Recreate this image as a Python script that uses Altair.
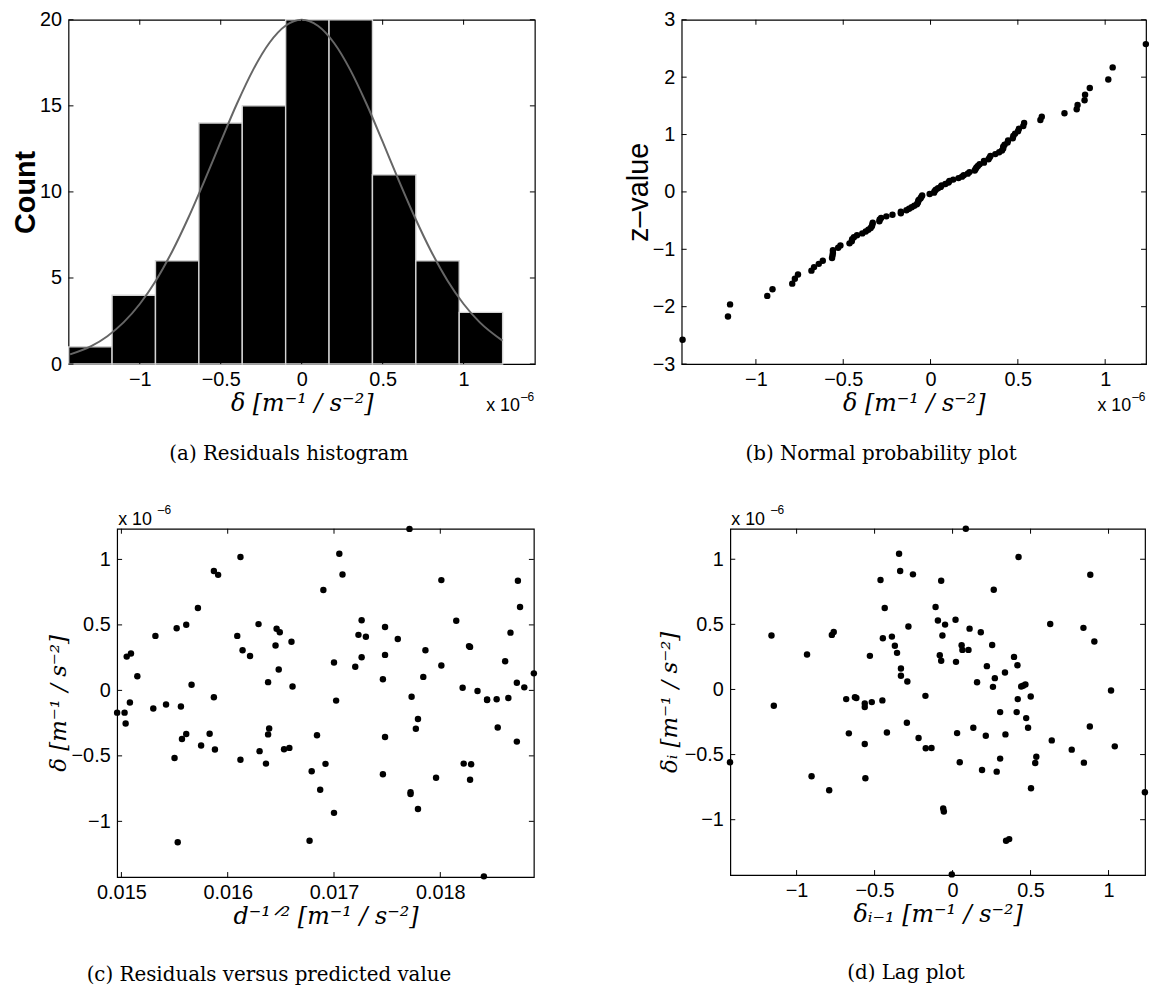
import altair as alt
import pandas as pd
from statistics import NormalDist

# Residual values are in units of 1e-6 m^-1/s^-2 (the "x 10^-6" factor).
pred = [0.01496, 0.01503, 0.01504, 0.01505, 0.01509, 0.01508, 0.01515, 0.01532, 0.01530, 0.01542,
        0.01552, 0.01556, 0.01550, 0.01553, 0.01561, 0.01561, 0.01557, 0.01566, 0.01572, 0.01575,
        0.01583, 0.01587, 0.01591, 0.01587, 0.01588, 0.01609, 0.01612, 0.01614, 0.01621, 0.01612,
        0.01629, 0.01630, 0.01636, 0.01638, 0.01639, 0.01638, 0.01645, 0.01646, 0.01649, 0.01648,
        0.01653, 0.01658, 0.01660, 0.01661, 0.01677, 0.01679, 0.01684, 0.01687, 0.01690, 0.01692,
        0.01700, 0.01700, 0.01702, 0.01705, 0.01708, 0.01720, 0.01723, 0.01726, 0.01730, 0.01726,
        0.01746, 0.01748, 0.01748, 0.01748, 0.01746, 0.01760, 0.01771, 0.01773, 0.01779, 0.01777,
        0.01772, 0.01772, 0.01779, 0.01784, 0.01786, 0.01796, 0.01801, 0.01801, 0.01815, 0.01821,
        0.01822, 0.01827, 0.01828, 0.01829, 0.01828, 0.01835, 0.01844, 0.01844, 0.01853, 0.01854,
        0.01861, 0.01864, 0.01866, 0.01872, 0.01872, 0.01873, 0.01875, 0.01879, 0.01888, 0.01841]
resid = [-0.170, -0.170, -0.253, 0.258, 0.281, -0.093, 0.108, 0.416, -0.138, -0.108,
         0.474, -0.123, -0.516, -1.160, 0.501, -0.333, -0.371, 0.043, 0.629, -0.421,
         -0.331, 0.912, 0.882, -0.053, -0.451, 0.416, 1.018, 0.306, 0.263, -0.529,
         0.506, -0.464, -0.559, 0.063, -0.291, -0.336, 0.343, 0.471, 0.444, 0.160,
         -0.449, -0.439, 0.371, 0.030, -1.148, -0.617, -0.343, -0.759, 0.767, -0.561,
         -0.935, 0.213, -0.078, 1.043, 0.885, 0.180, 0.424, 0.536, 0.409, 0.253,
         0.085, 0.484, 0.271, -0.356, -0.640, 0.393, 1.233, -0.048, -0.218, -0.293,
         -0.777, -0.792, -0.905, 0.103, 0.306, -0.667, 0.842, 0.190, 0.531, 0.020,
         -0.559, 0.338, 0.332, -0.564, -0.682, -0.005, -0.073, -0.070, -0.068, -0.283,
         0.223, -0.058, 0.441, 0.058, -0.391, 0.837, 0.637, 0.023, 0.130, -1.420]

# histogram bins (a)
hist_lo = [-1.439, -1.171, -0.903, -0.635, -0.367, -0.099, 0.169, 0.437, 0.705, 0.973]
hist_hi = [-1.171, -0.903, -0.635, -0.367, -0.099, 0.169, 0.437, 0.705, 0.973, 1.241]
hist_count = [1, 4, 6, 14, 15, 20, 20, 11, 6, 3]

# grey fitted curve (a)
fit_x = [-1.43, -1.3, -1.2, -1.1, -1.0, -0.9, -0.8, -0.7, -0.6, -0.5, -0.4, -0.3, -0.2, -0.1,
         0.0, 0.1, 0.2, 0.3, 0.4, 0.5, 0.6, 0.7, 0.8, 0.9, 1.0, 1.1, 1.24]
fit_y = [0.56, 1.04, 1.62, 2.42, 3.49, 4.86, 6.54, 8.50, 10.66, 12.92, 15.12, 17.09, 18.65, 19.65,
         20.0, 19.65, 18.65, 17.09, 15.12, 12.92, 10.66, 8.50, 6.54, 4.86, 3.49, 2.42, 1.36]

# lag plot (d)
lag_prev = [-1.427, -1.161, -1.146, -0.933, -0.904, -0.791, -0.774, -0.762, -0.682, -0.665,
            -0.626, -0.617, -0.563, -0.563, -0.563, -0.559, -0.530, -0.518, -0.462, -0.450,
            -0.447, -0.435, -0.421, -0.389, -0.370, -0.356, -0.343, -0.336, -0.331, -0.331,
            -0.290, -0.293, -0.283, -0.254, -0.218, -0.174, -0.172, -0.135, -0.109, -0.094,
            -0.073, -0.082, -0.073, -0.065, -0.048, -0.060, -0.056, -0.005, 0.019, 0.022,
            0.029, 0.046, 0.058, 0.063, 0.085, 0.102, 0.109, 0.133, 0.157, 0.181,
            0.189, 0.213, 0.220, 0.254, 0.259, 0.264, 0.271, 0.283, 0.305, 0.305,
            0.336, 0.339, 0.343, 0.363, 0.394, 0.411, 0.416, 0.418, 0.423, 0.440,
            0.452, 0.467, 0.472, 0.484, 0.501, 0.503, 0.530, 0.537, 0.626, 0.636,
            0.764, 0.839, 0.842, 0.883, 0.880, 0.909, 1.016, 1.040, 1.233]
lag_curr = [-0.559, 0.414, -0.125, 0.268, -0.667, -0.774, 0.419, 0.442, -0.074, -0.337,
            -0.059, -0.066, -0.107, -0.135, -0.419, -0.682, 0.258, -0.097, 0.840, -0.084,
            0.393, 0.626, -0.330, 0.406, 0.335, 0.281, 1.042, 0.909, 0.161, 0.105,
            0.061, -0.255, 0.483, 0.884, -0.373, -0.049, -0.452, -0.450, 0.633, 0.529,
            0.835, 0.263, 0.220, 0.414, 0.498, -0.914, -0.937, -1.420, 0.536, 0.212,
            -0.335, -0.559, 0.340, 0.304, 1.234, 0.304, 0.467, -0.294, 0.056, 0.439,
            -0.618, -0.355, 0.179, 0.342, 0.020, 0.766, 0.087, -0.631, -0.174, -0.531,
            0.130, -0.345, -1.162, -1.149, 0.250, -0.174, 0.186, -0.074, 1.017, 0.023,
            0.028, 0.038, -0.220, -0.294, -0.054, -0.759, -0.564, -0.516, 0.503, -0.391,
            -0.462, 0.473, -0.562, 0.881, -0.284, 0.368, -0.008, -0.437, -0.789]

# tick values
ticks_a_x = [-1, -0.5, 0, 0.5, 1]
ticks_a_y = [0, 5, 10, 15, 20]
ticks_b_x = [-1, -0.5, 0, 0.5, 1]
ticks_b_y = [-3, -2, -1, 0, 1, 2, 3]
ticks_c_x = [0.015, 0.016, 0.017, 0.018]
ticks_c_y = [-1, -0.5, 0, 0.5, 1]
ticks_d_x = [-1, -0.5, 0, 0.5, 1]
ticks_d_y = [-1, -0.5, 0, 0.5, 1]

# normal probability plot: sorted residuals against standard normal quantiles
sorted_res = sorted(resid)
n = len(sorted_res)
zvals = [NormalDist().inv_cdf((i + 0.5) / n) for i in range(n)]

# ------------------------------------------------------------------
SANS = "Liberation Sans"
SERIF = "DejaVu Serif"
TICK_LEN = 5
UNIT = "[m\u207b\u00b9 / s\u207b\u00b2]"


def num_axis(values, title, tfont, tsize, tstyle, tweight, extent, tpad, lpad):
    return alt.Axis(values=values, title=title, ticks=False, domain=False, grid=False,
                    format="~g", labelFont=SANS, labelFontSize=20, labelColor="black",
                    labelPadding=lpad, labelFlush=False, labelOverlap=False,
                    titleFont=tfont, titleFontSize=tsize, titleFontStyle=tstyle,
                    titleFontWeight=tweight, titleColor="black", titlePadding=tpad,
                    minExtent=extent, maxExtent=extent)


def x_axis(values, title):
    return num_axis(values, title, SERIF, 24, "italic", "normal", 24, 4, 6)


def inner_ticks(xvals, yvals, xs, ys, W, H):
    # MATLAB-style inward ticks on all four sides
    tx = alt.Chart(pd.DataFrame({"t": xvals}))
    ty = alt.Chart(pd.DataFrame({"t": yvals}))
    kw = dict(color="black", strokeWidth=1)
    return [
        tx.mark_rule(**kw).encode(x=alt.X("t:Q", scale=xs),
                                  y=alt.value(H), y2=alt.value(H - TICK_LEN)),
        tx.mark_rule(**kw).encode(x=alt.X("t:Q", scale=xs),
                                  y=alt.value(0), y2=alt.value(TICK_LEN)),
        ty.mark_rule(**kw).encode(y=alt.Y("t:Q", scale=ys),
                                  x=alt.value(0), x2=alt.value(TICK_LEN)),
        ty.mark_rule(**kw).encode(y=alt.Y("t:Q", scale=ys),
                                  x=alt.value(W), x2=alt.value(W - TICK_LEN)),
    ]


def label_text(s, x, y, size, align="left"):
    return alt.Chart(pd.DataFrame({"s": [s]})).mark_text(
        font=SANS, fontSize=size, align=align, baseline="alphabetic", color="black"
    ).encode(text="s:N", x=alt.value(x), y=alt.value(y))


def pin(x, y):
    # invisible element fixing the panel's outer left/top bound
    return alt.Chart(pd.DataFrame({"k": [0]})).mark_rule(
        opacity=0, strokeWidth=0, color="white"
    ).encode(x=alt.value(x), x2=alt.value(x + 1), y=alt.value(y))


def spacer():
    return alt.Chart(pd.DataFrame({"k": [0]})).mark_rule(
        opacity=0, strokeWidth=0, color="white"
    ).encode(x=alt.value(0), x2=alt.value(1), y=alt.value(0)).properties(
        width=1, height=1, view=alt.ViewBackground(stroke="transparent", strokeWidth=0))


def caption(text, dx, offset):
    return alt.TitleParams(text=text, orient="bottom", anchor="middle", frame="group",
                           font=SERIF, fontSize=20, fontWeight="normal",
                           color="black", dx=dx, offset=offset)


def factor_bottom(W, H):
    return [label_text("x 10", W - 15, H + 47, 18, "right"),
            label_text("\u20136", W - 14, H + 37, 12, "left")]


def factor_top():
    return [label_text("x 10", 1, -4, 18, "left"),
            label_text("\u20136", 41, -15, 12, "left")]


RES_DOMAIN = [-1.425, 1.234]
DOT = dict(size=42, color="black", opacity=1)

# ---------------- (a) histogram ----------------
Wa, Ha = 470, 347
xs_a = alt.Scale(domain=[-1.44, 1.44], nice=False, zero=False)
ys_a = alt.Scale(domain=[0, 20], nice=False, zero=False)
hist_df = pd.DataFrame({"lo": hist_lo, "hi": hist_hi, "n": hist_count,
                        "base": [0] * len(hist_count)})
fit_df = pd.DataFrame({"fx": fit_x, "fy": fit_y})
bars = alt.Chart(hist_df).mark_bar(color="black", stroke="#d4d4d4", strokeWidth=1.4).encode(
    x=alt.X("lo:Q", scale=xs_a, axis=x_axis(ticks_a_x, "\u03b4  " + UNIT)),
    x2="hi:Q",
    y=alt.Y("n:Q", scale=ys_a,
            axis=num_axis(ticks_a_y, "Count", SANS, 29, "normal", "bold", 24, 4, 7)),
    y2="base:Q",
)
curve = alt.Chart(fit_df).mark_line(color="#666666", strokeWidth=2, interpolate="monotone").encode(
    x=alt.X("fx:Q", scale=xs_a),
    y=alt.Y("fy:Q", scale=ys_a),
)
panel_a = alt.layer(
    bars, curve, *inner_ticks(ticks_a_x, ticks_a_y, xs_a, ys_a, Wa, Ha),
    *factor_bottom(Wa, Ha), pin(-59, Ha / 2)
).properties(width=Wa, height=Ha, title=caption("(a) Residuals histogram", -13, 29))

# ---------------- (b) normal probability plot ----------------
Wb, Hb = 468, 347
xs_b = alt.Scale(domain=RES_DOMAIN, nice=False, zero=False)
ys_b = alt.Scale(domain=[-3, 3], nice=False, zero=False)
b_df = pd.DataFrame({"r": sorted_res, "z": zvals})
pts_b = alt.Chart(b_df).mark_circle(**DOT).encode(
    x=alt.X("r:Q", scale=xs_b, axis=x_axis(ticks_b_x, "\u03b4  " + UNIT)),
    y=alt.Y("z:Q", scale=ys_b,
            axis=num_axis(ticks_b_y, "z\u2013value", SANS, 29, "normal", "normal", 24, 4, 7)),
)
panel_b = alt.layer(
    pts_b, *inner_ticks(ticks_b_x, ticks_b_y, xs_b, ys_b, Wb, Hb),
    *factor_bottom(Wb, Hb), pin(-145, Hb / 2)
).properties(width=Wb, height=Hb, title=caption("(b) Normal probability plot", -33, 29))

# ---------------- (c) residuals vs predicted ----------------
Wc, Hc = 420, 351
xs_c = alt.Scale(domain=[0.01496, 0.01888], nice=False, zero=False)
ys_c = alt.Scale(domain=RES_DOMAIN, nice=False, zero=False)
c_df = pd.DataFrame({"p": pred, "r": resid})
pts_c = alt.Chart(c_df).mark_circle(**DOT).encode(
    x=alt.X("p:Q", scale=xs_c, axis=x_axis(ticks_c_x, "d\u207b\u00b9\u141f\u00b2  " + UNIT)),
    y=alt.Y("r:Q", scale=ys_c,
            axis=num_axis(ticks_c_y, "\u03b4  " + UNIT, SERIF, 23, "italic", "normal", 40, 7, 7)),
)
panel_c = alt.layer(
    pts_c, *inner_ticks(ticks_c_x, ticks_c_y, xs_c, ys_c, Wc, Hc),
    *factor_top(), pin(-108, -30)
).properties(width=Wc, height=Hc,
             title=caption("(c) Residuals versus predicted value", -57, 37))

# ---------------- (d) lag plot ----------------
Wd, Hd = 418, 349
xs_d = alt.Scale(domain=RES_DOMAIN, nice=False, zero=False)
ys_d = alt.Scale(domain=RES_DOMAIN, nice=False, zero=False)
d_df = pd.DataFrame({"prev": lag_prev, "curr": lag_curr})
pts_d = alt.Chart(d_df).mark_circle(**DOT).encode(
    x=alt.X("prev:Q", scale=xs_d,
            axis=x_axis(ticks_d_x, "\u03b4\u1d62\u208b\u2081  " + UNIT)),
    y=alt.Y("curr:Q", scale=ys_d,
            axis=num_axis(ticks_d_y, "\u03b4\u1d62  " + UNIT, SERIF, 23, "italic", "normal", 42, 7, 7)),
)
panel_d = alt.layer(
    pts_d, *inner_ticks(ticks_d_x, ticks_d_y, xs_d, ys_d, Wd, Hd),
    *factor_top(), pin(-145, -30)
).properties(width=Wd, height=Hd, title=caption("(d) Lag plot", -32, 37))

chart = alt.ConcatChart(
    concat=[spacer(), panel_a, panel_b, spacer(), panel_c, panel_d],
    columns=3,
    spacing={"row": 33, "column": 0},
    align={"row": "each", "column": "none"},
).properties(
    padding={"left": 0, "top": -3, "right": 0, "bottom": 0},
    background="white",
).configure_view(stroke="black", strokeWidth=1.2)

chart.save("out.html", embed_options={"renderer": "svg", "actions": False})
